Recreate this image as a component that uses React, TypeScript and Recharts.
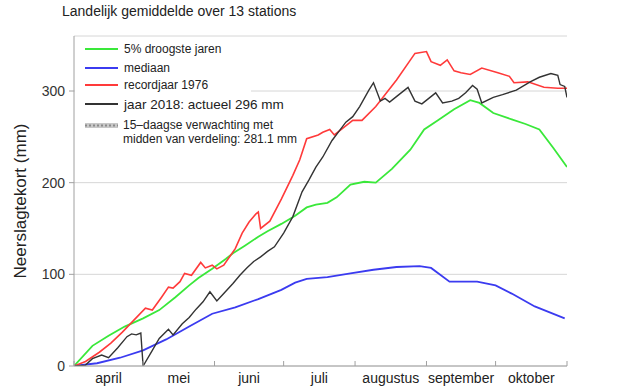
import { LineChart, Line, XAxis, YAxis, CartesianGrid, Legend } from 'recharts';

// x = days since 1 April, y = neerslagtekort in mm
const monthStarts = [0, 30, 61, 91, 122, 153, 183, 214];
const monthMids = [15, 45.5, 76, 106.5, 137.5, 168, 198.5];
const monthNames = ['april', 'mei', 'juni', 'juli', 'augustus', 'september', 'oktober'];
const yTicks = [0, 100, 200, 300];

const droogste = [
  [0, 0], [8, 22], [15, 33], [22, 43], [30, 52], [37, 61], [44, 75], [50, 88], [54, 96],
  [60, 106], [66, 117], [69, 123], [74, 131], [80, 141], [84, 147], [90, 155], [96, 164],
  [101, 173], [105, 176], [110, 178], [114, 184], [120, 198], [126, 201], [131, 200],
  [138, 215], [146, 236], [152, 258], [158, 268], [165, 280], [172, 290], [176, 287],
  [182, 276], [190, 269], [196, 264], [202, 258], [208, 238], [214, 217],
];

const mediaan = [
  [0, 0], [10, 3], [20, 9], [30, 17], [40, 29], [50, 43], [60, 57], [70, 64], [80, 73],
  [90, 83], [96, 91], [101, 95], [110, 97], [120, 101], [130, 105], [140, 108], [150, 109],
  [155, 107], [163, 92], [175, 92], [183, 88], [190, 79], [200, 65], [213, 52],
];

const record1976 = [
  [0, 0], [5, 5], [11, 15], [16, 25], [21, 37], [26, 50], [31, 63], [34, 61], [38, 75],
  [41, 86], [43, 85], [46, 92], [48, 101], [51, 99], [55, 113], [57, 107], [60, 110],
  [62, 106], [65, 110], [70, 128], [73, 145], [76, 157], [79, 166], [80, 168], [81, 150],
  [85, 158], [90, 182], [95, 208], [98, 225], [101, 248], [106, 252], [108, 255], [111, 258],
  [113, 252], [117, 260], [121, 268], [125, 268], [131, 283], [140, 312], [148, 341],
  [153, 343], [155, 332], [159, 328], [162, 334], [165, 322], [168, 320], [172, 318],
  [177, 325], [184, 320], [189, 316], [191, 309], [197, 310], [204, 304], [210, 303],
  [214, 303],
];

const jaar2018 = [
  [0, 0], [5, 1], [8, 8], [12, 12], [15, 9], [19, 20], [23, 32], [25, 35], [27, 34],
  [29, 36], [30, 0], [34, 17], [37, 30], [41, 40], [43, 34], [47, 46], [50, 53], [53, 62],
  [56, 70], [59, 81], [62, 71], [65, 79], [69, 90], [72, 99], [75, 107], [78, 114],
  [81, 119], [84, 125], [87, 130], [91, 145], [95, 163], [99, 190], [102, 203], [105, 217],
  [108, 228], [112, 246], [115, 256], [118, 266], [121, 272], [124, 283], [128, 301],
  [130, 309], [133, 289], [135, 292], [137, 288], [139, 292], [142, 298], [145, 304],
  [148, 289], [151, 286], [154, 292], [157, 298], [160, 287], [164, 289], [167, 292],
  [170, 298], [173, 306], [175, 302], [177, 287], [182, 293], [186, 296], [192, 301],
  [198, 310], [202, 315], [207, 319], [210, 317], [211, 307], [213, 305], [214, 293],
];

const toPoints = (pairs: number[][]) => pairs.map(([day, mm]) => ({ day, mm }));

const FONT = '"Liberation Sans", Arial, sans-serif';
const FRAME = '#a0a0a0';

const MonthTick = (props: any) => {
  const { x, y, payload } = props;
  const i = monthMids.indexOf(payload.value);
  if (i < 0) {
    return <line x1={x} y1={y} x2={x} y2={y - 5} stroke={FRAME} />;
  }
  return (
    <text x={x} y={y + 17} textAnchor="middle" fontSize={14} fill="#222" fontFamily={FONT}>
      {monthNames[i]}
    </text>
  );
};

const Sample = ({ color }: { color: string }) => (
  <svg width={33} height={6} style={{ marginLeft: 10, marginRight: 6 }}>
    <line x1={0} y1={3} x2={33} y2={3} stroke={color} strokeWidth={2} />
  </svg>
);

const legendRows = [
  { label: '5% droogste jaren', color: '#3ae83a', top: 4, size: 12 },
  { label: 'mediaan', color: '#3b3bf0', top: 23, size: 12 },
  { label: 'recordjaar 1976', color: '#ff3a3a', top: 40, size: 12 },
  { label: 'jaar 2018: actueel 296 mm', color: '#333', top: 59, size: 13.5 },
];

const LegendBox = () => (
  <div style={{ position: 'relative', width: 176, height: 116, background: '#fff', fontFamily: FONT, color: '#222' }}>
    {legendRows.map((r) => (
      <div key={r.label} style={{ position: 'absolute', top: r.top, left: 0, height: 16, display: 'flex', alignItems: 'center', fontSize: r.size, whiteSpace: 'nowrap' }}>
        <Sample color={r.color} />
        {r.label}
      </div>
    ))}
    <div style={{ position: 'absolute', top: 81, left: 0, display: 'flex', fontSize: 12, lineHeight: '14px', whiteSpace: 'nowrap' }}>
      <svg width={33} height={14} style={{ marginLeft: 10, marginRight: 5 }}>
        <rect x={0} y={5} width={33} height={5} fill="#c8c8c8" />
        <line x1={0} y1={7.5} x2={33} y2={7.5} stroke="#8a8a8a" strokeWidth={2} strokeDasharray="2 2" />
      </svg>
      <div>
        15–daagse verwachting met
        <br />
        midden van verdeling: 281.1 mm
      </div>
    </div>
  </div>
);

const App = () => {
  return (
    <div style={{ position: 'absolute', left: 0, top: 0, width: 640, height: 387, background: '#fff' }}>
      <div style={{ position: 'absolute', left: 62, top: 3, fontFamily: FONT, fontSize: 14, color: '#222', zIndex: 2 }}>
        Landelijk gemiddelde over 13 stations
      </div>
      <LineChart width={640} height={387} margin={{ top: 36, right: 73, left: 0, bottom: 0 }}>
        <CartesianGrid vertical={false} stroke="#d6d6d6" />
        <XAxis
          dataKey="day"
          type="number"
          domain={[0, 214]}
          ticks={[...monthStarts, ...monthMids].sort((a, b) => a - b)}
          interval={0}
          height={21}
          tickSize={0}
          tickMargin={0}
          tickLine={false}
          axisLine={{ stroke: FRAME }}
          tick={MonthTick}
          allowDataOverflow
        />
        <XAxis
          xAxisId="top"
          orientation="top"
          dataKey="day"
          type="number"
          domain={[0, 214]}
          ticks={monthStarts}
          height={0}
          mirror
          tick={false}
          tickSize={5}
          stroke={FRAME}
          allowDataOverflow
        />
        <YAxis
          type="number"
          domain={[0, 360]}
          ticks={yTicks}
          width={74}
          tickSize={5}
          tickMargin={4}
          stroke={FRAME}
          tick={{ fill: '#333', fontSize: 14, fontFamily: FONT }}
          allowDataOverflow
          label={{
            value: 'Neerslagtekort (mm)',
            angle: -90,
            position: 'insideLeft',
            offset: 20,
            style: { textAnchor: 'middle', fontSize: 17, fill: '#222', fontFamily: FONT },
          }}
        />
        <YAxis
          yAxisId="right"
          orientation="right"
          type="number"
          domain={[0, 360]}
          ticks={[100, 200, 300]}
          width={0}
          mirror
          tick={false}
          tickSize={5}
          stroke={FRAME}
          allowDataOverflow
        />
        <Legend
          layout="vertical"
          align="center"
          verticalAlign="middle"
          content={() => <LegendBox />}
          wrapperStyle={{ left: 75, top: 37, width: 176 }}
        />
        <Line data={toPoints(droogste)} dataKey="mm" name="5% droogste jaren" stroke="#3ae83a" strokeWidth={1.8} dot={false} isAnimationActive={false} />
        <Line data={toPoints(mediaan)} dataKey="mm" name="mediaan" stroke="#3b3bf0" strokeWidth={1.8} dot={false} isAnimationActive={false} />
        <Line data={toPoints(record1976)} dataKey="mm" name="recordjaar 1976" stroke="#ff3a3a" strokeWidth={1.6} dot={false} isAnimationActive={false} />
        <Line data={toPoints(jaar2018)} dataKey="mm" name="jaar 2018" stroke="#333" strokeWidth={1.4} dot={false} isAnimationActive={false} />
      </LineChart>
    </div>
  );
};

export default App;
